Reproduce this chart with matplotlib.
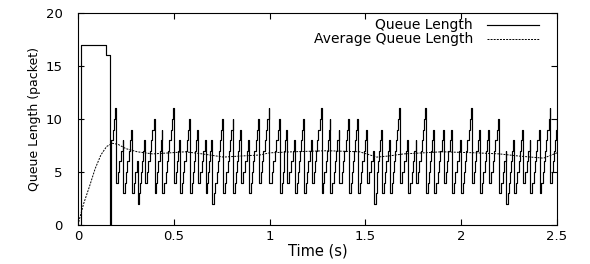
import numpy as np
from matplotlib import pyplot as plt

plt.rcParams['font.family'] = ['DejaVu Sans']

# start-up part of the queue (time s, packets)
start_t = [0.0, 0.014, 0.014, 0.146, 0.146, 0.163, 0.170, 0.172]
start_q = [0, 0, 17, 17, 16, 16, 0, 8]

# sawtooth: time of each peak (s), its value, and the trough it drops to
peak_t = [0.197, 0.237, 0.280, 0.312, 0.350, 0.400, 0.441, 0.501, 0.532,
          0.585, 0.628, 0.667, 0.701, 0.758, 0.811, 0.851, 0.893, 0.944,
          0.999, 1.054, 1.092, 1.133, 1.179, 1.220, 1.272, 1.318, 1.365,
          1.416, 1.463, 1.507, 1.546, 1.585, 1.627, 1.681, 1.724, 1.766,
          1.816, 1.858, 1.910, 1.950, 1.999, 2.055, 2.098, 2.146, 2.196,
          2.236, 2.277, 2.323, 2.361, 2.409, 2.466, 2.505]
peak_q = [11, 8, 9, 6, 8, 10, 9, 11, 8,
          10, 9, 8, 8, 10, 10, 9, 8, 10,
          11, 10, 9, 8, 10, 8, 11, 10, 9,
          10, 10, 9, 7, 9, 8, 11, 8, 8,
          11, 9, 9, 9, 8, 11, 9, 9, 10,
          7, 8, 9, 8, 9, 11, 10]
trough_q = [4, 3, 3, 2, 4, 3, 3, 4, 3,
            3, 4, 3, 2, 3, 3, 4, 3, 4,
            4, 3, 4, 3, 3, 4, 3, 3, 4,
            3, 3, 4, 2, 3, 3, 4, 3, 4,
            3, 3, 4, 3, 3, 4, 3, 4, 3,
            2, 3, 4, 3, 3, 4, 4]

# average queue length (time s, packets)
avg_t = [0.0, 0.03, 0.06, 0.09, 0.12, 0.15, 0.18, 0.21, 0.25, 0.31, 0.39,
         0.48, 0.56, 0.65, 0.76, 0.85, 0.95, 1.0, 1.12, 1.3, 1.47, 1.56,
         1.62, 1.7, 1.9, 2.08, 2.2, 2.3, 2.43, 2.5]
avg_q = [0.0, 2.0, 3.6, 5.3, 6.6, 7.4, 7.7, 7.6, 7.2, 6.9, 6.7,
         6.8, 6.9, 6.7, 6.4, 6.5, 6.6, 6.8, 6.9, 7.0, 6.9, 6.4,
         6.5, 6.7, 6.9, 6.8, 6.7, 6.5, 6.3, 6.8]

# queue is a whole number of packets: climb one packet per step up to
# each peak, hold it briefly, then drop to the trough
hold = 0.004
qt = list(start_t)
qq = list(start_q)
prev_t, prev_q = start_t[-1], start_q[-1]
for t, p, tr in zip(peak_t, peak_q, trough_q):
    levels = np.arange(prev_q, p + 1)
    times = np.linspace(prev_t + hold, t - hold, len(levels))
    times[0] = prev_t
    qt += list(times)
    qq += list(levels)
    qt.append(t)
    qq.append(tr)
    prev_t, prev_q = t, tr

fig = plt.figure(figsize=(5.9, 2.64), dpi=100)
ax = fig.add_axes([0.132, 0.148, 0.812, 0.803])

ax.plot(qt, qq, color='black', lw=0.85, drawstyle='steps-post',
        label='Queue Length')
ax.plot(avg_t, avg_q, color='black', lw=0.7, dashes=(2, 1.2),
        label='Average Queue Length')

ax.set_xlim(0, 2.5)
ax.set_ylim(0, 20)
ax.set_xticks([0, 0.5, 1, 1.5, 2, 2.5])
ax.set_xticklabels(['0', '0.5', '1', '1.5', '2', '2.5'])
ax.set_yticks([0, 5, 10, 15, 20])
ax.tick_params(direction='in', top=True, right=True, length=4, width=0.8,
               labelsize=9.5)
ax.tick_params(axis='y', pad=11)
ax.tick_params(axis='x', pad=4)
for s in ax.spines.values():
    s.set_linewidth(0.8)

ax.set_xlabel('Time (s)', fontsize=10.5, labelpad=0)
ax.set_ylabel('Queue Length (packet)', fontsize=9, labelpad=3)

ax.legend(loc='upper right', frameon=False, markerfirst=False,
          prop={'size': 10}, handlelength=3.8, handletextpad=1.0,
          labelspacing=0.0, borderaxespad=0.0,
          bbox_to_anchor=(0.975, 1.0))

fig.savefig('out.png', dpi=100)
